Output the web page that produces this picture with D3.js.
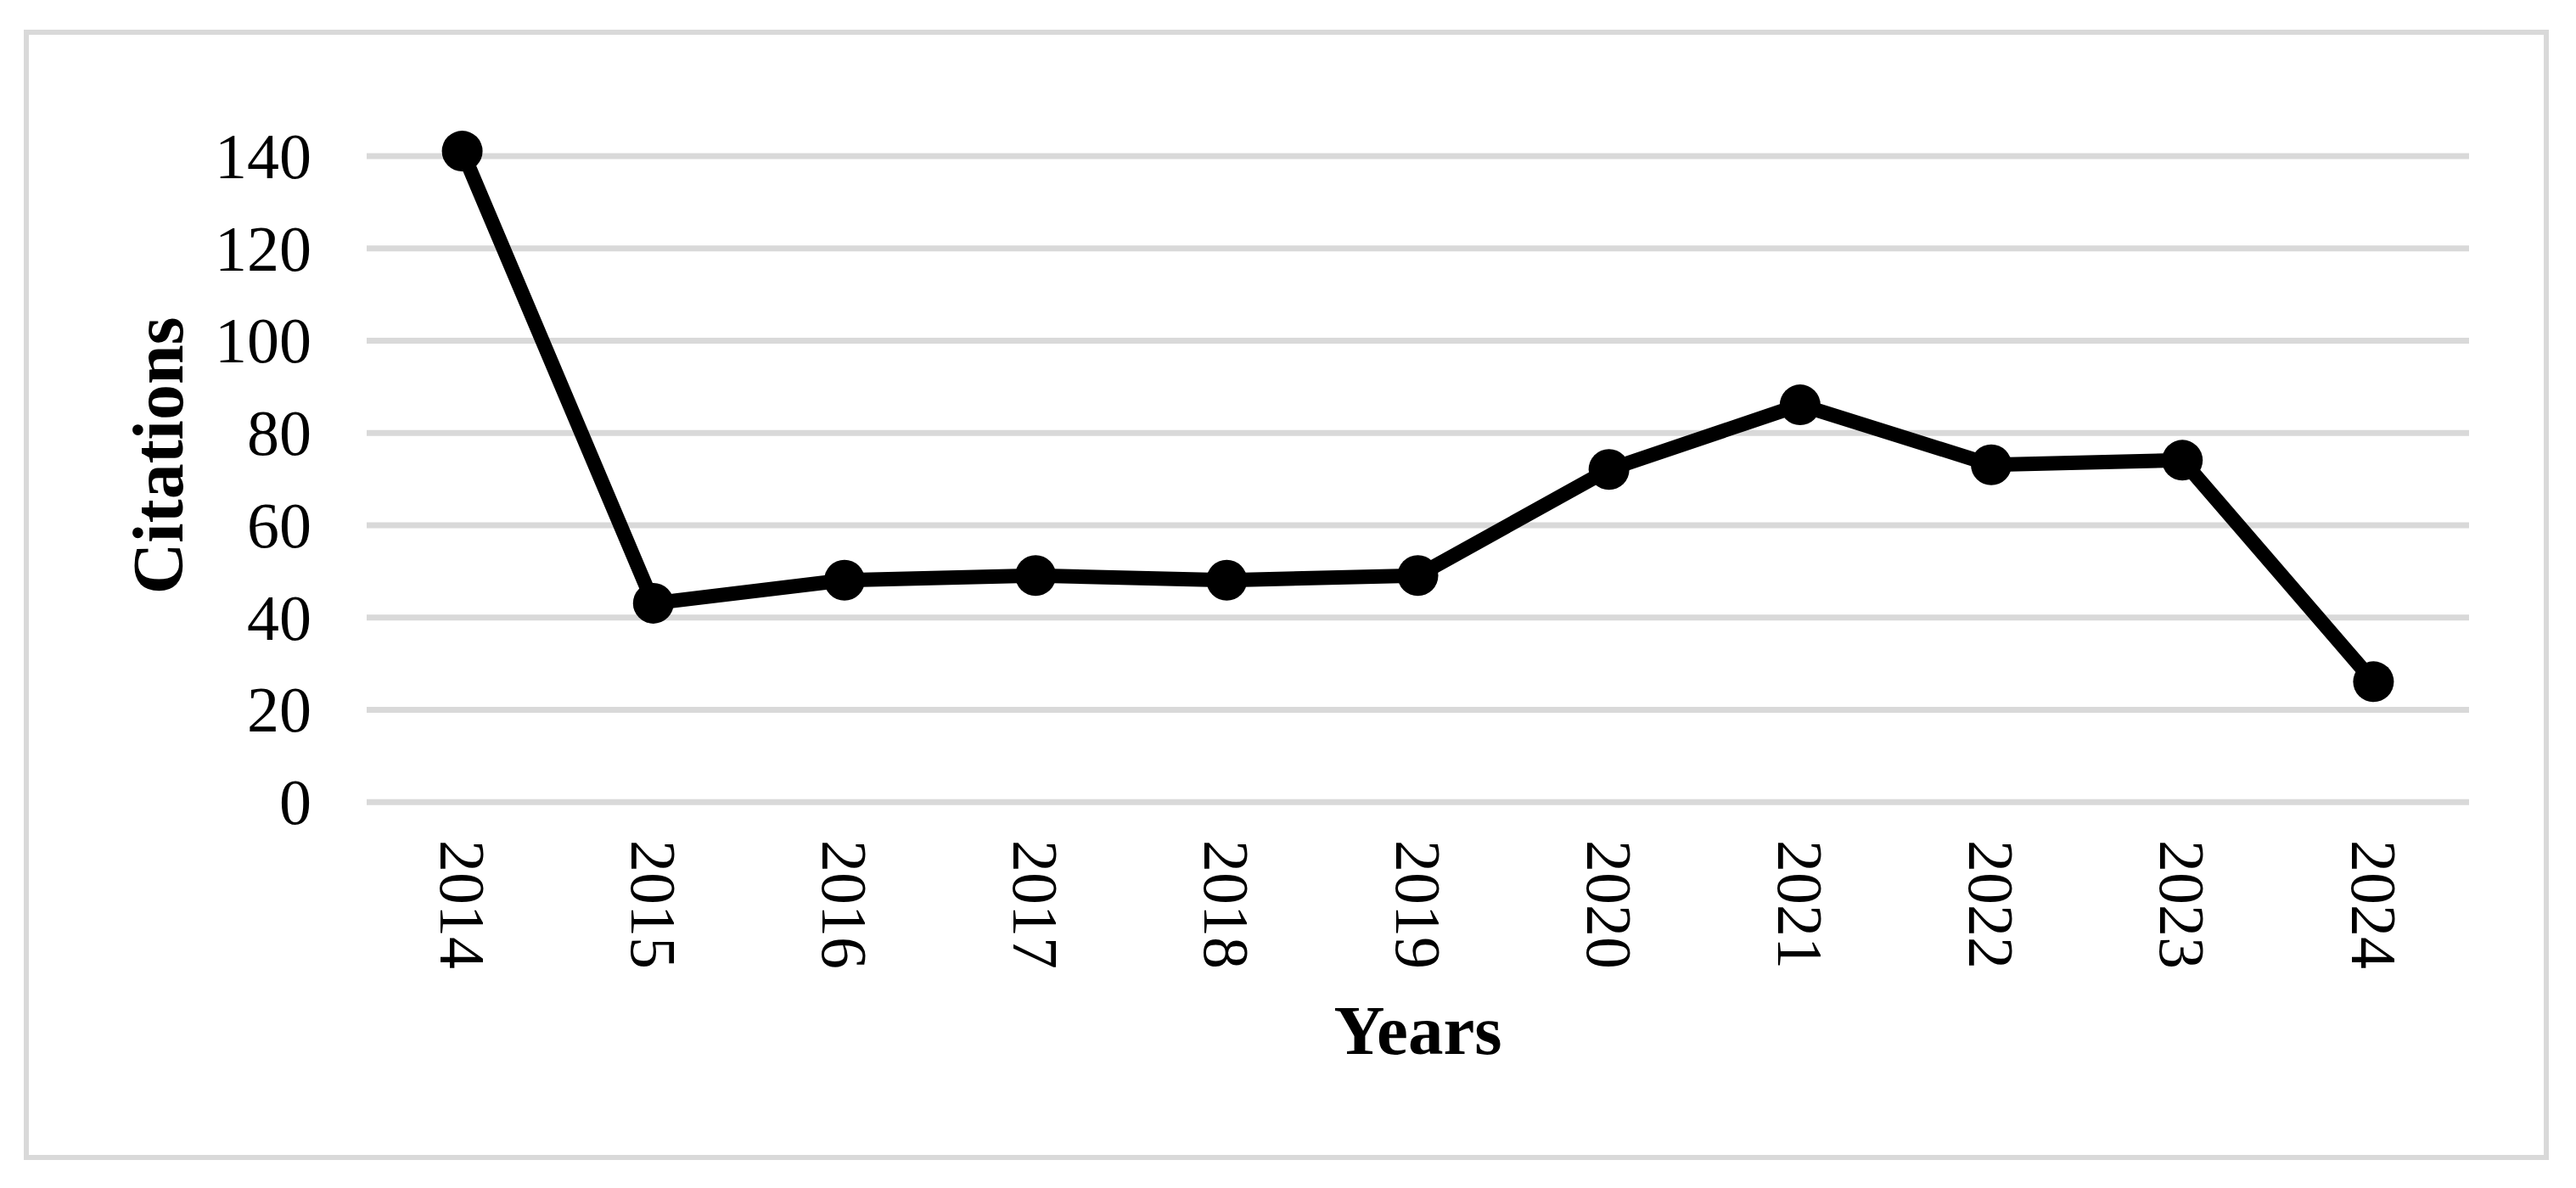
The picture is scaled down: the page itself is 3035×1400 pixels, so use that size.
<!DOCTYPE html>
<html>
<head>
<meta charset="utf-8">
<script src="https://cdn.jsdelivr.net/npm/d3@7"></script>
<style>
  html, body { margin: 0; padding: 0; background: #ffffff; }
  svg { display: block; }
</style>
</head>
<body>
<div id="chart"></div>
<script>
// ---- data ----
const years = ["2014", "2015", "2016", "2017", "2018", "2019", "2020", "2021", "2022", "2023", "2024"];
const citations = [141, 43, 48, 49, 48, 49, 72, 86, 73, 74, 26];
const yTicks = [0, 20, 40, 60, 80, 100, 120, 140];
const xTitle = "Years";
const yTitle = "Citations";

// ---- layout ----
const W = 3035, H = 1400;
const plot = { left: 432, right: 2909, top: 183.5, bottom: 944.7 };
const fontFamily = "'Liberation Serif', 'Times New Roman', Times, serif";

const svg = d3.select("#chart").append("svg")
  .attr("width", W).attr("height", H)
  .attr("viewBox", `0 0 ${W} ${H}`);

svg.append("rect").attr("x", 0).attr("y", 0).attr("width", W).attr("height", H).attr("fill", "#ffffff");

// outer chart border
svg.append("rect")
  .attr("x", 31).attr("y", 38)
  .attr("width", 3000 - 31).attr("height", 1364 - 38)
  .attr("fill", "none")
  .attr("stroke", "#d9d9d9")
  .attr("stroke-width", 6);

const x = d3.scaleBand().domain(years).range([plot.left, plot.right]).paddingInner(0).paddingOuter(0);
const y = d3.scaleLinear().domain([0, 140]).range([plot.bottom, plot.top]);

// gridlines via axis
const grid = svg.append("g")
  .attr("transform", `translate(${plot.left},0)`)
  .call(d3.axisLeft(y).tickValues(yTicks).tickSize(-(plot.right - plot.left)).tickFormat(""));
grid.select(".domain").remove();
grid.selectAll(".tick line").attr("stroke", "#d9d9d9").attr("stroke-width", 7);

// y-axis labels
const yAxis = svg.append("g")
  .attr("transform", `translate(367,0)`)
  .call(d3.axisLeft(y).tickValues(yTicks).tickSize(0).tickPadding(0).tickFormat(d3.format("d")));
yAxis.select(".domain").remove();
yAxis.selectAll(".tick text")
  .attr("x", 0)
  .attr("dy", "0.34em")
  .attr("text-anchor", "end")
  .attr("fill", "#000")
  .style("font-family", fontFamily)
  .style("font-size", "76px");

// x-axis labels (rotated 90° clockwise)
const xAxis = svg.append("g")
  .attr("transform", `translate(0,990)`)
  .call(d3.axisBottom(x).tickSize(0).tickPadding(0));
xAxis.select(".domain").remove();
xAxis.selectAll(".tick text")
  .attr("transform", "rotate(90)")
  .attr("x", 0)
  .attr("y", 0)
  .attr("dy", "0.34em")
  .attr("text-anchor", "start")
  .attr("fill", "#000")
  .style("font-family", fontFamily)
  .style("font-size", "76px");

// line
const line = d3.line()
  .x((d, i) => x(years[i]) + x.bandwidth() / 2)
  .y(d => y(d));

svg.append("path")
  .datum(citations)
  .attr("d", line)
  .attr("fill", "none")
  .attr("stroke", "#000")
  .attr("stroke-width", 17)
  .attr("stroke-linejoin", "round");

svg.append("g").selectAll("circle")
  .data(citations)
  .join("circle")
  .attr("cx", (d, i) => x(years[i]) + x.bandwidth() / 2)
  .attr("cy", d => y(d))
  .attr("r", 24)
  .attr("fill", "#000");

// axis titles
svg.append("text")
  .attr("transform", "translate(215,537) rotate(-90)")
  .attr("text-anchor", "middle")
  .attr("fill", "#000")
  .style("font-family", fontFamily)
  .style("font-weight", "bold")
  .style("font-size", "84px")
  .text(yTitle);

svg.append("text")
  .attr("x", (plot.left + plot.right) / 2)
  .attr("y", 1242)
  .attr("text-anchor", "middle")
  .attr("fill", "#000")
  .style("font-family", fontFamily)
  .style("font-weight", "bold")
  .style("font-size", "83px")
  .text(xTitle);
</script>
</body>
</html>
